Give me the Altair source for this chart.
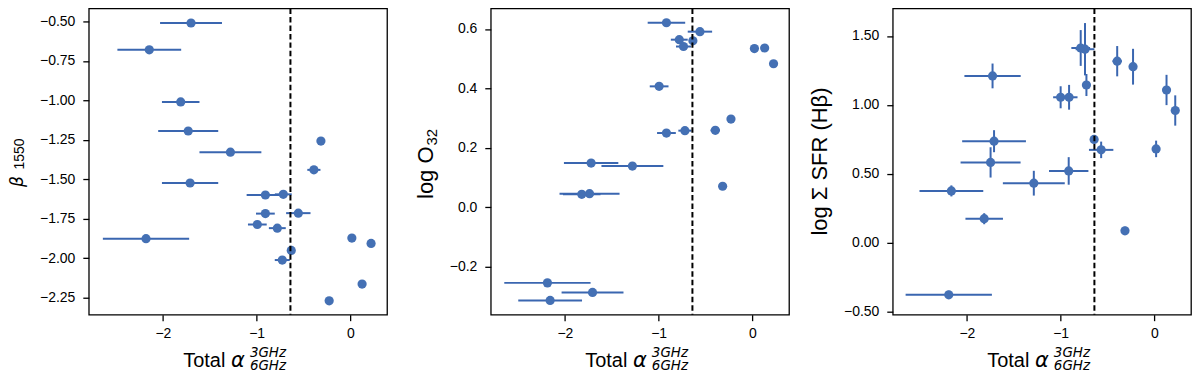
import altair as alt
import pandas as pd

# ---------------- data ----------------
# Panel 1: beta_1550
p1_x = [-1.70, -2.145, -1.81, -1.73, -1.28, -0.315, -0.39, -1.71, -0.907, -0.716, -0.907,
        -0.556, -0.993, -0.78, -2.18, 0.015, 0.22, -0.631, -0.727, 0.124, -0.227]
p1_y = [-0.51, -0.68, -1.01, -1.194, -1.328, -1.258, -1.44, -1.523, -1.599, -1.595, -1.717,
        -1.714, -1.786, -1.809, -1.876, -1.872, -1.906, -1.95, -2.011, -2.163, -2.269]
p1_xerr = [0.33, 0.34, 0.20, 0.32, 0.33, 0.0, 0.07, 0.30, 0.20, 0.09, 0.10,
           0.13, 0.10, 0.09, 0.46, 0.0, 0.0, 0.04, 0.08, 0.0, 0.0]

# Panel 2: log O32
p2_x = [-0.917, -0.56, -0.78, -0.635, -0.735, 0.021, 0.13, 0.225, -0.995, -0.229, -0.396,
        -0.72, -0.917, -1.72, -1.28, -0.318, -1.737, -1.82, -2.186, -1.705, -2.157]
p2_y = [0.621, 0.591, 0.564, 0.56, 0.541, 0.534, 0.536, 0.483, 0.407, 0.297, 0.259,
        0.258, 0.25, 0.149, 0.139, 0.071, 0.046, 0.044, -0.254, -0.286, -0.313]
p2_xerr = [0.20, 0.13, 0.09, 0.04, 0.08, 0.0, 0.0, 0.0, 0.10, 0.0, 0.05,
           0.07, 0.10, 0.29, 0.33, 0.0, 0.32, 0.20, 0.46, 0.33, 0.34]

# Panel 3: log Sigma SFR (Hbeta)
p3_x = [-1.726, -0.786, -0.74, -0.725, -1.0, -0.91, -0.397, -0.228, 0.129, 0.222, -1.71,
        -0.643, -0.568, 0.018, -1.747, -0.914, -1.286, -2.165, -1.815, -0.314, -2.193]
p3_y = [1.21, 1.413, 1.404, 1.144, 1.055, 1.055, 1.317, 1.277, 1.108, 0.959, 0.736,
        0.749, 0.673, 0.68, 0.582, 0.52, 0.431, 0.375, 0.173, 0.085, -0.38]
p3_xerr = [0.30, 0.10, 0.10, 0.04, 0.08, 0.09, 0.05, 0.0, 0.0, 0.0, 0.34,
           0.04, 0.13, 0.0, 0.32, 0.21, 0.33, 0.34, 0.20, 0.0, 0.46]
p3_yerr = [0.09, 0.13, 0.19, 0.08, 0.08, 0.09, 0.11, 0.13, 0.11, 0.11, 0.08,
           0.03, 0.06, 0.06, 0.11, 0.10, 0.09, 0.04, 0.04, 0.03, 0.03]

alpha_cut = -0.64
x_domain = [-2.79, 0.39]
x_ticks = [-2, -1, 0]
p1_domain = [-2.357, -0.418]
p1_ticks = [-2.25, -2.0, -1.75, -1.5, -1.25, -1.0, -0.75, -0.5]
p2_domain = [-0.361, 0.669]
p2_ticks = [-0.2, 0.0, 0.2, 0.4, 0.6]
p3_domain = [-0.524, 1.70]
p3_ticks = [-0.5, -0.25, 0.0, 0.25, 0.5, 0.75, 1.0, 1.25, 1.5]

PT = "#4470b4"
BAR = "#3a66b0"
W, H = 299, 307
TICK_FONT = "Liberation Sans"
TITLE_FONT = "Liberation Sans"
MATH_FONT = "DejaVu Sans"
TS = 20
TSY = 22


def frame(x, y, xerr, yerr=None):
    d = pd.DataFrame({"x": x, "y": y, "xerr": xerr})
    d["xlo"] = d["x"] - d["xerr"]
    d["xhi"] = d["x"] + d["xerr"]
    if yerr is None:
        d["yerr"] = 0.0
    else:
        d["yerr"] = yerr
    d["ylo"] = d["y"] - d["yerr"]
    d["yhi"] = d["y"] + d["yerr"]
    return d


def txt(s, x, y, size, font=TITLE_FONT, style="normal", angle=0, align="left"):
    return alt.Chart(pd.DataFrame({"t": [s]})).mark_text(
        font=font, fontSize=size, fontStyle=style, angle=angle, align=align,
        baseline="alphabetic", color="black"
    ).encode(text="t:N", x=alt.value(x), y=alt.value(y))


def panel(d, ydom, yticks, yfmt, ytitle_layers):
    xs = alt.Scale(domain=x_domain, nice=False, zero=False)
    ys = alt.Scale(domain=ydom, nice=False, zero=False)
    xax = alt.Axis(values=x_ticks, format="d", title=None)
    yax = alt.Axis(values=yticks, format=yfmt, title=None)
    base = alt.Chart(d)
    xe = base.transform_filter("datum.xerr > 0").mark_rule(color=BAR, strokeWidth=2).encode(
        x=alt.X("xlo:Q", scale=xs, axis=xax), x2="xhi:Q",
        y=alt.Y("y:Q", scale=ys, axis=yax))
    layers = [xe]
    if d["yerr"].max() > 0:
        ye = base.transform_filter("datum.yerr > 0").mark_rule(color=BAR, strokeWidth=2).encode(
            x=alt.X("x:Q", scale=xs), y=alt.Y("ylo:Q", scale=ys), y2="yhi:Q")
        layers.append(ye)
    pts = base.mark_circle(size=85, color=PT, opacity=1).encode(
        x=alt.X("x:Q", scale=xs), y=alt.Y("y:Q", scale=ys))
    vline = alt.Chart(pd.DataFrame({"v": [alpha_cut]})).mark_rule(
        color="black", strokeWidth=2, strokeDash=[5.5, 3]).encode(x=alt.X("v:Q", scale=xs))
    # invisible spacer that fixes the left extent of every panel
    spacer = alt.Chart(pd.DataFrame({"s": [0]})).mark_rule(
        color="white", opacity=0, strokeWidth=1).encode(
        x=alt.value(-95), x2=alt.value(-90), y=alt.value(150))
    layers += [pts, vline, spacer]
    # x title: Total alpha^{3GHz}_{6GHz}
    layers += [
        txt("Total", 94.7, 359.7, TS),
        txt("α", 142.5, 359.7, TS + 1, font=MATH_FONT, style="italic"),
        txt("3GHz", 161.5, 349.5, 13.5, font=MATH_FONT, style="italic"),
        txt("6GHz", 161.5, 362.5, 13.5, font=MATH_FONT, style="italic"),
    ]
    layers += ytitle_layers
    return alt.layer(*layers).properties(width=W, height=H)


d1 = frame(p1_x, p1_y, p1_xerr)
d2 = frame(p2_x, p2_y, p2_xerr)
d3 = frame(p3_x, p3_y, p3_xerr, p3_yerr)

t1 = [
    txt("β", -65.5, 179, 17, font=MATH_FONT, style="italic", angle=270),
    txt("1550", -65, 161.5, 14, angle=270),
]
t2 = [
    txt("log O", -58, 191, TSY, angle=270),
    txt("32", -53.5, 137.5, 15, angle=270),
]
t3 = [
    txt("log Σ SFR (Hβ)", -65.5, 153.5, TSY, angle=270, align="center"),
]

c1 = panel(d1, p1_domain, p1_ticks, ".2f", t1)
c2 = panel(d2, p2_domain, p2_ticks, ".1f", t2)
c3 = panel(d3, p3_domain, p3_ticks, ".2f", t3)

chart = alt.hconcat(c1, c2, c3, spacing=104, bounds="flush").properties(
    padding={"left": -15, "top": -2, "right": 0, "bottom": 0},
    background="white",
).configure_view(
    stroke="black", strokeWidth=1.3
).configure_axis(
    domain=False, grid=False, ticks=True, tickColor="black", tickWidth=1.3, tickSize=6,
    labelFont=TICK_FONT, labelFontSize=14, labelColor="black", labelPadding=6
).configure_axisY(labelPadding=8)

chart.save("out.html", embed_options={"renderer": "svg", "actions": False})
